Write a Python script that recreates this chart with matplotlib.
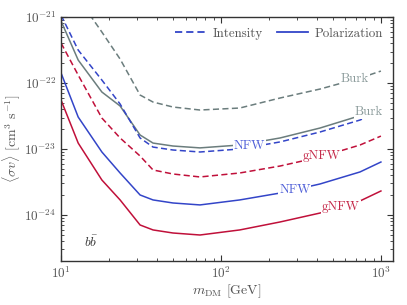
import matplotlib
matplotlib.use("Agg")
import matplotlib.pyplot as plt
from matplotlib.lines import Line2D
from matplotlib.ticker import LogLocator, NullFormatter

plt.rcParams.update({
    "font.family": "serif",
    "font.serif": ["cmr10", "DejaVu Serif"],
    "mathtext.fontset": "cm",
    "axes.unicode_minus": False,
    "axes.formatter.use_mathtext": True,
})

# dark matter masses [GeV]
mass = [10, 12.8, 18.0, 23.4, 31.2, 37.6, 50.1, 73.9, 131, 234, 416, 740, 1000]

# <sigma v> limits [cm^3 s^-1]
burk_intensity = [4.33e-21, 1.94e-21, 5.93e-22, 2.31e-22, 6.58e-23, 5.15e-23, 4.33e-23,
                  3.90e-23, 4.18e-23, 5.93e-23, 8.11e-23, 1.19e-22, 1.52e-22]
burk_polarization = [8.7e-22, 2.23e-22, 7.31e-23, 4.49e-23, 1.63e-23, 1.23e-23, 1.11e-23,
                     1.04e-23, 1.15e-23, 1.47e-23, 2.08e-23, 3.2e-23, 4.33e-23]
nfw_intensity = [1.07e-21, 3.16e-22, 1.11e-22, 4.81e-23, 1.47e-23, 1.07e-23, 9.66e-24,
                 9.01e-24, 1.0e-23, 1.28e-23, 1.81e-23, 2.75e-23, 3.77e-23]
gnfw_intensity = [4.04e-22, 1.32e-22, 2.95e-23, 1.47e-23, 7.83e-24, 4.81e-24, 4.18e-24,
                  3.77e-24, 4.33e-24, 5.52e-24, 7.56e-24, 1.15e-23, 1.57e-23]
nfw_polarization = [1.42e-22, 3.05e-23, 9.01e-24, 4.33e-24, 2.01e-24, 1.69e-24, 1.52e-24,
                    1.42e-24, 1.69e-24, 2.15e-24, 2.95e-24, 4.49e-24, 6.35e-24]
gnfw_polarization = [5.52e-23, 1.23e-23, 3.39e-24, 1.69e-24, 7.05e-25, 5.93e-25, 5.33e-25,
                     4.97e-25, 5.93e-25, 7.83e-25, 1.07e-24, 1.63e-24, 2.31e-24]

# inline label positions (mass, sigma v)
labels = [
    ("Burk", 688, 1.15e-22, "gray"),
    ("Burk", 841, 3.64e-23, "gray"),
    ("NFW", 150, 1.11e-23, "blue"),
    ("gNFW", 428, 7.83e-24, "red"),
    ("NFW", 290, 2.39e-24, "blue"),
    ("gNFW", 562, 1.32e-24, "red"),
]

xticks = [10, 100, 1000]
yticks = [1e-24, 1e-23, 1e-22, 1e-21]

c_gray = "#6b7d7d"
c_blue = "#3345c8"
c_red = "#c0103a"
lab_col = {"gray": "#8b9b9b", "blue": "#5060d8", "red": "#c52a4a"}

fig = plt.figure(figsize=(4.07, 3.05), dpi=100)
ax = fig.add_axes([0.150, 0.144, 0.8156, 0.800])

lw = 1.1
dash = (0, (4, 2.2))
ax.plot(mass, burk_intensity, color=c_gray, ls=dash, lw=lw)
ax.plot(mass, burk_polarization, color=c_gray, ls="-", lw=lw)
ax.plot(mass, nfw_intensity, color=c_blue, ls=dash, lw=lw)
ax.plot(mass, gnfw_intensity, color=c_red, ls=dash, lw=lw)
ax.plot(mass, nfw_polarization, color=c_blue, ls="-", lw=lw)
ax.plot(mass, gnfw_polarization, color=c_red, ls="-", lw=lw)

for txt, xm, yv, key in labels:
    ax.text(xm, yv, txt, color=lab_col[key], fontsize=9.3, ha="center", va="center",
            zorder=5, bbox=dict(facecolor="white", edgecolor="none", pad=0.6))

ax.set_xscale("log")
ax.set_yscale("log")
ax.set_xlim(10, 1190)
ax.set_ylim(2.0e-25, 1e-21)
ax.set_xticks(xticks)
ax.set_yticks(yticks)
ax.xaxis.set_minor_locator(LogLocator(base=10, subs=range(2, 10), numticks=20))
ax.yaxis.set_minor_locator(LogLocator(base=10, subs=range(2, 10), numticks=20))
ax.xaxis.set_minor_formatter(NullFormatter())
ax.yaxis.set_minor_formatter(NullFormatter())

ax.set_xlabel(r"$m_{\rm DM}$ [GeV]", color="#555555", fontsize=10, labelpad=1)
ax.set_ylabel(r"$\langle\sigma v\rangle$ [cm$^3$ s$^{-1}$]", color="#555555",
              fontsize=10, labelpad=1)

ax.text(0.068, 0.057, r"$b\bar{b}$", transform=ax.transAxes, fontsize=9.5, color="#333333")

handles = [Line2D([], [], color=c_blue, ls=dash, lw=1.3),
           Line2D([], [], color=c_blue, ls="-", lw=1.3)]
leg = ax.legend(handles, ["Intensity", "Polarization"], loc="upper right", ncol=2,
                frameon=False, fontsize=9.3, handlelength=2.4, columnspacing=1.1,
                handletextpad=0.5, borderaxespad=0.4)
for t in leg.get_texts():
    t.set_color("#555555")

for s in ax.spines.values():
    s.set_color("#333333")
    s.set_linewidth(1.0)
ax.tick_params(which="both", direction="in", top=True, right=True, colors="#333333",
               labelcolor="#555555", labelsize=9.5)
ax.tick_params(which="major", length=4.5, width=0.8)
ax.tick_params(which="minor", length=2.5, width=0.6)

fig.savefig("out.png", dpi=100)
